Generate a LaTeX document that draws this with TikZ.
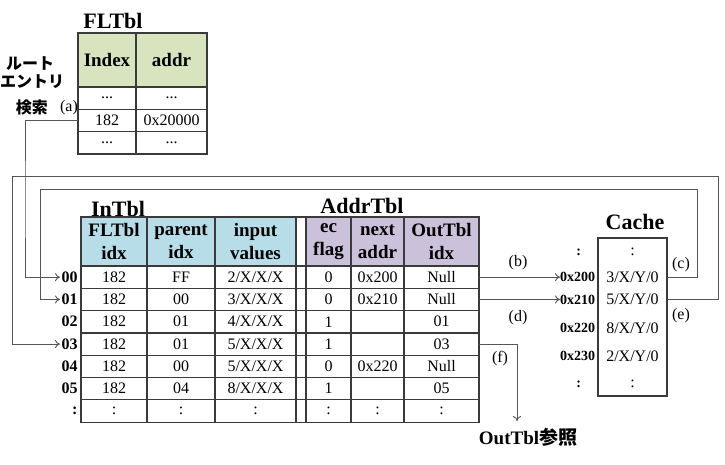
\documentclass[tikz,border=0pt]{standalone}
\usepackage{fontspec}
\setmainfont{Liberation Serif}
\newfontfamily\jpfont{Noto Sans CJK JP}
\usetikzlibrary{arrows}
\usetikzlibrary{arrows.meta}
\usepackage{xcolor}
\definecolor{flgreen}{HTML}{D7E4BD}
\definecolor{inblue}{HTML}{B7DEE8}
\definecolor{adpurple}{HTML}{CCC1DA}
\definecolor{gridcol}{HTML}{3A3A3A}
\definecolor{linkcol}{HTML}{555555}
\newcommand{\datafont}{\fontsize{16}{18}\selectfont}
\newcommand{\headfont}{\fontsize{19}{23}\selectfont\bfseries}
\newcommand{\titlefont}{\fontsize{22}{24}\selectfont\bfseries}
\newcommand{\rowfont}{\fontsize{16}{18}\selectfont\bfseries}
\newcommand{\addrfont}{\fontsize{14}{16}\selectfont\bfseries}
\newcommand{\jpbold}{\jpfont\bfseries\fontsize{16}{18}\selectfont}

\begin{document}
\begin{tikzpicture}[x=1pt,y=-1pt]
\tikzstyle{every node}=[inner sep=0pt,outer sep=0pt]
\tikzstyle{cell}=[draw=gridcol,line width=1.2pt,minimum height=22.3pt,font=\datafont]
\tikzstyle{head}=[cell,minimum height=49pt,font=\headfont,align=center]
\tikzstyle{title}=[font=\titlefont]
\tikzstyle{rowlbl}=[font=\rowfont,anchor=east,outer sep=1.5pt]
\tikzstyle{tag}=[font=\datafont]
\tikzstyle{link}=[draw=linkcol,line width=0.9pt]
\useasboundingbox (0,0) rectangle (725,465);

% FLTbl
\node[title] (fltitle) at (113,21) {FLTbl};
\node[head,fill=flgreen,minimum width=58pt,minimum height=54pt] (flh1) at (107,60) {Index};
\node[head,fill=flgreen,minimum width=71pt,minimum height=54pt] (flh2) at (171.5,60) {addr};
\foreach \r/\y/\va/\vb in {0/98.2/{...}/{...},1/120.5/182/0x20000,2/142.8/{...}/{...}}{
  \node[cell,minimum width=58pt] (fl\r-a) at (107,\y) {\va};
  \node[cell,minimum width=71pt] (fl\r-b) at (171.5,\y) {\vb};
}
\node[font=\jpbold] (jp1) at (30,64) {ルート};
\node[font=\jpbold] (jp2) at (32,82) {エントリ};
\node[font=\jpbold] (jp3) at (32,107) {検索};

% InTbl and AddrTbl
\node[title] (intitle) at (118,209) {InTbl};
\node[title] (adtitle) at (362,206) {AddrTbl};
\foreach \i/\x/\w/\c/\t in {1/114/66/inblue/{FLTbl\\idx},2/181/68/inblue/{parent\\idx},3/255.5/81/inblue/{input\\values},4/301/10/white/{},5/328.5/45/adpurple/{ec\\flag},6/377.5/53/adpurple/{next\\addr},7/441.5/75/adpurple/{OutTbl\\idx}}
  \node[head,fill=\c,minimum width=\w pt] (hd\i) at (\x,241.5) {\t};
\foreach \r/\lab/\va/\vb/\vc/\vd/\ve/\vf in {0/00/182/FF/{2/X/X/X}/0/0x200/Null,
    1/01/182/00/{3/X/X/X}/0/0x210/Null,
    2/02/182/01/{4/X/X/X}/1/{}/01,
    3/03/182/01/{5/X/X/X}/1/{}/03,
    4/04/182/00/{5/X/X/X}/0/0x220/Null,
    5/05/182/04/{8/X/X/X}/1/{}/05,
    6/{:}/{:}/{:}/{:}/{:}/{:}/{:}}{
  \pgfmathsetmacro{\yy}{277.15+22.3*\r}
  \node[rowlbl] (rl\r) at (79,\yy) {\lab};
  \node[cell,minimum width=66pt] (in\r-a) at (114,\yy) {\va};
  \node[cell,minimum width=68pt] (in\r-b) at (181,\yy) {\vb};
  \node[cell,minimum width=81pt] (in\r-c) at (255.5,\yy) {\vc};
  \node[cell,minimum width=10pt] (gap\r) at (301,\yy) {};
  \node[cell,minimum width=45pt] (ad\r-a) at (328.5,\yy) {\vd};
  \node[cell,minimum width=53pt] (ad\r-b) at (377.5,\yy) {\ve};
  \node[cell,minimum width=75pt] (ad\r-c) at (441.5,\yy) {\vf};
}

% Cache
\node[title] (cachetitle) at (635,222) {Cache};
\node[draw=gridcol,line width=1.2pt,minimum width=69pt,minimum height=158pt] (cache) at (632.5,317) {};
\foreach \i/\y/\ax/\ad/\val in {0/252/581/{:}/{:},1/277.2/595/0x200/{3/X/Y/0},2/299.5/595/0x210/{5/X/Y/0},
    3/328/595/0x220/{8/X/Y/0},4/356/595/0x230/{2/X/Y/0},5/384/581/{:}/{:}}{
  \node[font=\datafont] (ce\i) at (632.5,\y) {\val};
  \node[font=\addrfont,anchor=east] (ca\i) at (\ax,\y) {\ad};
}

% connectors
\coordinate (fend) at (517,421);
\node[font=\fontsize{19}{21}\selectfont\bfseries] (outref) at (528,437) {OutTbl{\jpfont 参照}};
\draw[link,-{To[length=5pt,width=8pt]}] (fl1-a.west) -| (25,200) |- (rl0.west);
\draw[link,-{To[length=5pt,width=8pt]}] (cache.east |- ce1) -| (697,189) -- (40,189) |- (rl1.west);
\draw[link,-{To[length=5pt,width=8pt]}] (cache.east |- ce2) -| (718,176) -- (12,176) |- (rl3.west);
\draw[link,-{To[length=5pt,width=8pt]}] (ad0-c.east) -- (ad0-c.east -| ca1.west);
\draw[link,-{To[length=5pt,width=8pt]}] (ad1-c.east) -- (ad1-c.east -| ca2.west);
\draw[link,-{To[length=5pt,width=8pt]}] (ad3-c.east) -| (fend);
\node[tag] (la) at (69,108) {(a)};
\node[tag] (lb) at (518,263) {(b)};
\node[tag] (lc) at (681,265) {(c)};
\node[tag] (ld) at (518,318) {(d)};
\node[tag] (le) at (681,316) {(e)};
\node[tag] (lf) at (500,359) {(f)};
\end{tikzpicture}
\end{document}
